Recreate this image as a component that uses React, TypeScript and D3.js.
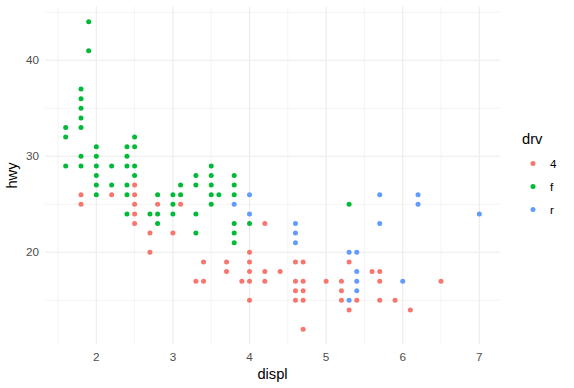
import * as d3 from 'd3'

// points (displ, hwy, drv)
const fDispl = [1.6, 1.6, 1.6, 1.8, 1.8, 1.8, 1.8, 1.8, 1.8, 1.8, 1.9, 1.9, 2.0, 2.0, 2.0, 2.0, 2.0, 2.0, 2.2, 2.2, 2.4, 2.4, 2.4, 2.4, 2.4, 2.4, 2.5, 2.5, 2.5, 2.5, 2.7, 2.8, 2.8, 2.8, 3.0, 3.0, 3.0, 3.1, 3.1, 3.3, 3.3, 3.3, 3.3, 3.5, 3.5, 3.5, 3.5, 3.5, 3.6, 3.8, 3.8, 3.8, 3.8, 3.8, 3.8, 4.0, 5.3]
const fHwy = [33, 32, 29, 37, 36, 35, 34, 33, 30, 29, 44, 41, 31, 30, 29, 28, 27, 26, 29, 27, 31, 30, 29, 27, 26, 24, 32, 31, 29, 28, 24, 26, 24, 23, 26, 25, 24, 27, 26, 28, 27, 24, 22, 29, 28, 27, 26, 25, 26, 28, 27, 26, 23, 22, 21, 23, 25]

const fourDispl = [1.8, 1.8, 2.2, 2.5, 2.5, 2.5, 2.5, 2.5, 2.7, 2.7, 2.8, 3.0, 3.1, 3.3, 3.4, 3.4, 3.7, 3.7, 3.9, 4.0, 4.0, 4.0, 4.0, 4.0, 4.2, 4.2, 4.2, 4.4, 4.6, 4.6, 4.6, 4.6, 4.7, 4.7, 4.7, 4.7, 4.7, 5.0, 5.2, 5.2, 5.2, 5.3, 5.3, 5.4, 5.6, 5.7, 5.7, 5.7, 5.9, 6.1, 6.5]
const fourHwy = [26, 25, 26, 27, 26, 25, 24, 23, 22, 20, 25, 22, 25, 17, 19, 17, 19, 18, 17, 20, 19, 18, 17, 15, 23, 18, 17, 18, 19, 17, 16, 15, 19, 17, 16, 15, 12, 17, 17, 16, 15, 19, 14, 15, 18, 18, 17, 15, 15, 14, 17]

const rDispl = [3.8, 4.0, 4.0, 4.6, 4.6, 4.6, 5.3, 5.3, 5.4, 5.4, 5.4, 5.4, 5.7, 5.7, 6.0, 6.2, 6.2, 7.0]
const rHwy = [25, 26, 24, 23, 22, 21, 20, 15, 20, 18, 17, 16, 26, 23, 17, 26, 25, 24]

const drvLevels = ['4', 'f', 'r']
const drvColors = ['#F8766D', '#00BA38', '#619CFF']

const xTicks = [2, 3, 4, 5, 6, 7]
const xMinor = [1.5, 2.5, 3.5, 4.5, 5.5, 6.5]
const yTicks = [20, 30, 40]
const yMinor = [15, 25, 35, 45]

const W = 574, H = 388
const left = 45, right = 500, top = 6.5, bottom = 344.5

export default function App() {
  const allX = [...fDispl, ...fourDispl, ...rDispl]
  const allY = [...fHwy, ...fourHwy, ...rHwy]
  const [x0, x1] = d3.extent(allX) as [number, number]
  const [y0, y1] = d3.extent(allY) as [number, number]
  const px = (x1 - x0) * 0.05, py = (y1 - y0) * 0.05

  const x = d3.scaleLinear().domain([x0 - px, x1 + px]).range([left, right])
  const y = d3.scaleLinear().domain([y0 - py, y1 + py]).range([bottom, top])
  const color = d3.scaleOrdinal<string, string>().domain(drvLevels).range(drvColors)

  const points = [
    ...fourDispl.map((d, i) => ({ d, h: fourHwy[i], drv: '4' })),
    ...fDispl.map((d, i) => ({ d, h: fHwy[i], drv: 'f' })),
    ...rDispl.map((d, i) => ({ d, h: rHwy[i], drv: 'r' })),
  ]

  const font = '"Liberation Sans", Arial, sans-serif'

  return (
    <svg width={W} height={H} style={{ position: 'absolute', left: 0, top: 0, fontFamily: font }}>
      <rect width={W} height={H} fill="white" />
      <g>
        {yMinor.map(t => (
          <line key={'ym' + t} x1={left} x2={right} y1={y(t)} y2={y(t)} stroke="#EBEBEB" strokeWidth={0.55} />
        ))}
        {xMinor.map(t => (
          <line key={'xm' + t} y1={top} y2={bottom} x1={x(t)} x2={x(t)} stroke="#EBEBEB" strokeWidth={0.55} />
        ))}
        {yTicks.map(t => (
          <line key={'y' + t} x1={left} x2={right} y1={y(t)} y2={y(t)} stroke="#EBEBEB" strokeWidth={1.07} />
        ))}
        {xTicks.map(t => (
          <line key={'x' + t} y1={top} y2={bottom} x1={x(t)} x2={x(t)} stroke="#EBEBEB" strokeWidth={1.07} />
        ))}
      </g>
      <g>
        {points.map((p, i) => (
          <circle key={i} cx={x(p.d)} cy={y(p.h)} r={2.5} fill={color(p.drv)} />
        ))}
      </g>
      <g fill="#4D4D4D" fontSize={11.7}>
        {xTicks.map(t => (
          <text key={'xl' + t} x={x(t)} y={bottom + 16.5} textAnchor="middle">{t}</text>
        ))}
        {yTicks.map(t => (
          <text key={'yl' + t} x={left - 6} y={y(t)} textAnchor="end" dy="0.35em">{t}</text>
        ))}
      </g>
      <text x={(left + right) / 2} y={bottom + 34} textAnchor="middle" fontSize={14.7} fill="black">displ</text>
      <text transform={`translate(17,${(top + bottom) / 2}) rotate(-90)`} textAnchor="middle" fontSize={14.7} fill="black">hwy</text>
      <g>
        <text x={522} y={144} fontSize={14.7} fill="black">drv</text>
        {drvLevels.map((lv, i) => (
          <g key={lv} transform={`translate(0,${163.5 + i * 23})`}>
            <circle cx={533} cy={0} r={2.5} fill={color(lv)} />
            <text x={550} y={0} dy="0.35em" fontSize={11.7} fill="black">{lv}</text>
          </g>
        ))}
      </g>
    </svg>
  )
}
